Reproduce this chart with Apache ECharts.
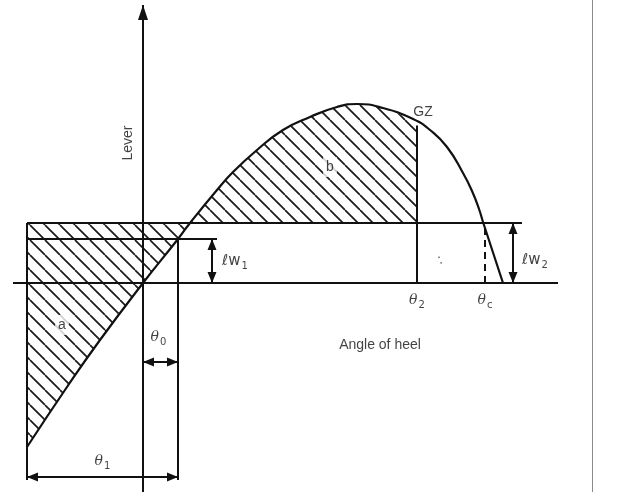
<!DOCTYPE html>
<html>
<head>
<meta charset="utf-8">
<script src="https://cdn.jsdelivr.net/npm/echarts@6/dist/echarts.min.js"></script>
<style>
html,body{margin:0;padding:0;background:#fff;}
#chart{width:617px;height:492px;}
</style>
</head>
<body>
<div id="chart"></div>
<script>
// ---- data (angle of heel in degrees, lever in metres) ----
const gzAngles = [-23.2, -15.2, -8.6, 0, 7, 9.4, 14.8, 18, 22.8, 28, 33.4, 38.8, 42.8, 48, 54, 57.4, 60.8, 64, 65.8, 67.2, 68, 72];
const gzLevers = [-0.82, -0.52, -0.285, 0, 0.22, 0.30, 0.465, 0.555, 0.665, 0.765, 0.83, 0.88, 0.895, 0.875, 0.82, 0.765, 0.68, 0.55, 0.46, 0.37, 0.305, 0];
const angleMarks = { theta1: -23.2, theta0: 7, theta2: 54.8, thetaC: 68.4 };
const windLevers = { lw1: 0.22, lw2: 0.30 };
const axisTexts = { y: 'Lever', x: 'Angle of heel', curve: 'GZ' };

// ---- view extents (pixel window mapping) ----
const X_MIN = -28.6, X_MAX = 94.8, Y_MIN = -1.045, Y_MAX = 1.415;

const { theta1, theta0, theta2, thetaC } = angleMarks;
const { lw1, lw2 } = windLevers;

function crossX(level) {
  for (let i = 0; i < gzAngles.length - 1; i++) {
    const y0 = gzLevers[i], y1 = gzLevers[i + 1];
    if (y0 <= level && y1 >= level) {
      return gzAngles[i] + (level - y0) / (y1 - y0) * (gzAngles[i + 1] - gzAngles[i]);
    }
  }
  return 0;
}
function curveAt(x) {
  for (let i = 0; i < gzAngles.length - 1; i++) {
    if (gzAngles[i] <= x && gzAngles[i + 1] >= x) {
      const t = (x - gzAngles[i]) / (gzAngles[i + 1] - gzAngles[i]);
      return gzLevers[i] + t * (gzLevers[i + 1] - gzLevers[i]);
    }
  }
  return 0;
}
const xa = crossX(lw2);
const curvePts = gzAngles.map((x, i) => [x, gzLevers[i]]);

// hatched area a : between wind lever line and the curve, theta1 .. first crossing
const regionA = [[theta1, lw2], [xa, lw2]].concat(curvePts.filter(p => p[0] < xa).reverse());
// hatched area b : between the curve and the wind lever line, first crossing .. theta2
const regionB = [[xa, lw2]].concat(curvePts.filter(p => p[0] > xa && p[0] < theta2))
  .concat([[theta2, curveAt(theta2)], [theta2, lw2]]);

function makeHatch() {
  const c = document.createElement('canvas');
  c.width = 15; c.height = 15;
  const g = c.getContext('2d');
  g.strokeStyle = '#1a1a1a';
  g.lineWidth = 1.7;
  [-15, 0, 15].forEach(k => { g.beginPath(); g.moveTo(k, 0); g.lineTo(k + 15, 15); g.stroke(); });
  return c;
}
const hatch = makeHatch();

const INK = '#111';
function seg(x1, y1, x2, y2, style) {
  return [{ coord: [x1, y1], lineStyle: style }, { coord: [x2, y2] }];
}

const plainLines = [
  seg(-26, 0, 83, 0),                           // base line
  seg(theta1, lw2, 75.8, lw2),                  // wind lever lw2
  seg(theta1, lw1, 14.8, lw1),                  // wind lever lw1
  seg(theta1, lw2, theta1, -0.985),             // theta1 vertical
  seg(theta0, lw1, theta0, -0.985),             // theta0 vertical
  seg(theta2, 0, theta2, curveAt(theta2) - 0.02), // theta2 vertical
  seg(thetaC, 0, thetaC, lw2, { type: [7, 5], width: 2, color: INK }), // thetaC dashed
  seg(89.8, Y_MIN, 89.8, Y_MAX, { color: '#8a8a8a', width: 1 }) // page edge
];

// arrows: from, to, [head at from, head at to], head length, half width
const arrows = [
  { from: [theta1, -0.97], to: [theta0, -0.97], heads: [true, true], L: 11, W: 4.5 },
  { from: [0, -0.395], to: [theta0, -0.395], heads: [true, true], L: 11, W: 4.5 },
  { from: [13.8, 0], to: [13.8, lw1], heads: [true, true], L: 11, W: 4.5 },
  { from: [74, 0], to: [74, lw2], heads: [true, true], L: 11, W: 4.5 },
  { from: [0, Y_MIN], to: [0, 1.39], heads: [false, true], L: 15, W: 5 }
];

const sub = { fontSize: 10, fontFamily: 'DejaVu Sans', padding: [10, 0, 0, 1], color: INK };
const th = { fontSize: 14, fontFamily: 'DejaVu Serif', fontStyle: 'italic', color: INK };
const lw = { fontSize: 15, fontFamily: 'DejaVu Sans', color: INK };
const plain = { fontSize: 14, fontFamily: 'Liberation Sans', color: INK };
const labels = [
  { value: [(theta1 + theta0) / 2, -0.89], text: '{t|θ}{s|1}' },
  { value: [(0 + theta0) / 2 - 0.4, -0.27], text: '{t|θ}{s|0}' },
  { value: [theta2, -0.085], text: '{t|θ}{s|2}' },
  { value: [thetaC, -0.085], text: '{t|θ}{s|c}' },
  { value: [18.4, lw1 / 2], text: '{l|ℓw}{s|1}' },
  { value: [78.4, 0.115], text: '{l|ℓw}{s|2}' },
  { value: [56, 0.855], text: '{p|' + axisTexts.curve + '}' },
  { value: [-16.2, -0.21], text: '{p|a}', bg: true },
  { value: [37.4, 0.58], text: '{p|b}', bg: true },
  { value: [59.4, 0.115], text: '{p|:}', rot: 20 },
  { value: [-3, 0.70], text: '{p|' + axisTexts.y + '}', rot: 90 },
  { value: [47.4, -0.31], text: '{p|' + axisTexts.x + '}' }
];

const chart = echarts.init(document.getElementById('chart'));
chart.setOption({
  animation: false,
  backgroundColor: '#fff',
  grid: { left: 0, right: 0, top: 0, bottom: 0 },
  xAxis: { type: 'value', min: X_MIN, max: X_MAX, show: false },
  yAxis: { type: 'value', min: Y_MIN, max: Y_MAX, show: false },
  series: [
    {
      type: 'custom', coordinateSystem: 'cartesian2d', silent: true, clip: false, z: 1,
      data: [[0, 0]],
      renderItem: (params, api) => ({
        type: 'group',
        children: [regionA, regionB].map(pts => ({
          type: 'polygon',
          shape: { points: pts.map(p => api.coord(p)) },
          style: { fill: { image: hatch, repeat: 'repeat' }, stroke: null }
        }))
      })
    },
    {
      type: 'line', data: curvePts, smooth: 0.5, symbol: 'none', silent: true, z: 4,
      lineStyle: { color: INK, width: 2.2 }
    },
    {
      type: 'line', data: [], silent: true, z: 3,
      markLine: {
        silent: true, symbol: ['none', 'none'], label: { show: false },
        lineStyle: { color: INK, width: 2, type: 'solid' },
        emphasis: { disabled: true },
        data: plainLines
      }
    },
    {
      type: 'custom', coordinateSystem: 'cartesian2d', silent: true, clip: false, z: 3,
      data: arrows.map((a, i) => [i, 0]),
      renderItem: (params, api) => {
        const a = arrows[params.dataIndex];
        const p1 = api.coord(a.from), p2 = api.coord(a.to);
        const dx = p2[0] - p1[0], dy = p2[1] - p1[1];
        const len = Math.hypot(dx, dy);
        const ux = dx / len, uy = dy / len, nx = -uy, ny = ux;
        const head = (tip, sgn) => {
          const bx = tip[0] - sgn * ux * a.L, by = tip[1] - sgn * uy * a.L;
          return {
            type: 'polygon',
            shape: { points: [tip, [bx + nx * a.W, by + ny * a.W], [bx - nx * a.W, by - ny * a.W]] },
            style: { fill: INK, stroke: null }
          };
        };
        const children = [{
          type: 'line',
          shape: { x1: p1[0], y1: p1[1], x2: p2[0], y2: p2[1] },
          style: { stroke: INK, lineWidth: 2 }
        }];
        if (a.heads[0]) children.push(head(p1, -1));
        if (a.heads[1]) children.push(head(p2, 1));
        return { type: 'group', children };
      }
    },
    {
      type: 'scatter', symbolSize: 0, silent: true, z: 5,
      data: labels.map(l => ({
        value: l.value,
        label: {
          show: true, position: 'inside', formatter: l.text,
          rotate: l.rot || 0,
          backgroundColor: l.bg ? '#fff' : 'transparent',
          padding: l.bg ? [3, 3] : 0,
          rich: { t: th, s: sub, l: lw, p: plain }
        }
      }))
    }
  ]
});
</script>
</body>
</html>
